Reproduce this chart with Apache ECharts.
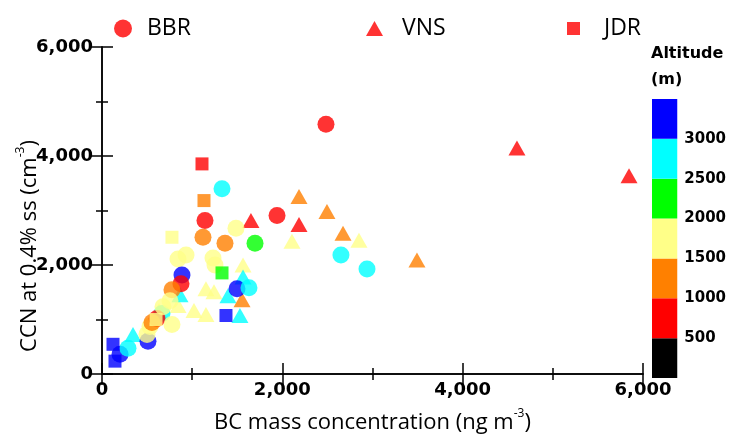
<!DOCTYPE html>
<html>
<head>
<meta charset="utf-8">
<script src="https://cdn.jsdelivr.net/npm/echarts@6/dist/echarts.min.js"></script>
<style>
  html, body { margin: 0; padding: 0; background: #fff; }
  #chart { width: 729px; height: 439px; }
</style>
</head>
<body>
<div id="chart"></div>
<script>
// BBR (circles)
const bbrBC  = [2484, 1941, 1142, 1331, 1120, 1364, 1486, 1697, 843, 932, 1231, 1253, 887, 876, 776, 1497, 1630, 2650, 2939, 200, 288, 510, 499, 532, 665, 610, 554, 776, 754, 676];
const bbrCCN = [4582, 2909, 2818, 3400, 2509, 2400, 2673, 2400, 2109, 2182, 2127, 2000, 1818, 1655, 1545, 1564, 1582, 2182, 1927, 364, 473, 600, 727, 873, 1109, 1018, 945, 909, 1345, 1236];
const bbrAlt = [750, 750, 750, 2750, 1250, 1250, 1750, 2250, 1750, 1750, 1750, 1750, 3250, 750, 1250, 3250, 2750, 2750, 2750, 3250, 2750, 3250, 1750, 1750, 2750, 750, 1250, 1750, 1750, 1750];

// VNS (triangles)
const vnsBC  = [4602, 5845, 1652, 2185, 2185, 2495, 2673, 2850, 3493, 2107, 1564, 1153, 1242, 1564, 1397, 1553, 1020, 1153, 1530, 344, 843, 865, 632];
const vnsCCN = [4145, 3636, 2818, 2745, 3255, 2982, 2582, 2455, 2091, 2436, 2000, 1564, 1509, 1782, 1436, 1364, 1164, 1091, 1073, 727, 1255, 1455, 1164];
const vnsAlt = [750, 750, 750, 750, 1250, 1250, 1250, 1750, 1250, 1750, 1750, 1750, 1750, 2750, 2750, 1250, 1750, 1750, 2750, 2750, 1750, 2750, 1750];

// JDR (squares)
const jdrBC  = [1109, 1131, 776, 1331, 1375, 122, 144, 599];
const jdrCCN = [3855, 3182, 2509, 1855, 1073, 545, 236, 1000];
const jdrAlt = [750, 1250, 1750, 2250, 3250, 3250, 3250, 1750];

// altitude colour bins
const altEdges  = [0, 500, 1000, 1500, 2000, 2500, 3000, 3500];
const altColors = ['#000000', '#ff0000', '#ff8000', '#ffff88', '#00ff00', '#00ffff', '#0000ff'];

const zip = (a, b, c) => a.map((v, i) => [v, b[i], c[i]]);

const fontTxt = "'Open Sans', sans-serif";
const fontNum = "'DejaVu Sans', sans-serif";

const frameAxis = (pos, isX, showLabel) => ({
  type: 'value',
  position: pos,
  min: 0,
  max: 6000,
  interval: 2000,
  axisLine: { show: true, lineStyle: { color: '#000', width: 1.5 } },
  axisTick: { show: true, inside: true, length: 11, lineStyle: { color: '#000', width: 1.5 } },
  minorTick: { show: true, splitNumber: 2, length: 6, lineStyle: { color: '#000', width: 1.5 } },
  splitLine: { show: false },
  axisLabel: {
    show: showLabel,
    color: '#000',
    fontSize: 18,
    fontWeight: 'bold',
    fontFamily: fontNum,
    margin: isX ? 7 : 9
  }
});

const xBottom = frameAxis('bottom', true, true);
xBottom.name = '{a|BC mass concentration (ng m}{s|-3}{a|)}';
xBottom.nameLocation = 'middle';
xBottom.nameGap = 34;
xBottom.nameTextStyle = {
  rich: {
    a: { fontSize: 22, fontFamily: fontTxt, color: '#000', lineHeight: 26, verticalAlign: 'bottom' },
    s: { fontSize: 12, fontFamily: fontTxt, color: '#000', lineHeight: 26, verticalAlign: 'top' }
  }
};

const legendItem = (name, icon, left, w, h, pad) => ({
  left: left,
  top: 12,
  icon: icon,
  itemWidth: w,
  itemHeight: h,
  data: [{ name: name, itemStyle: { color: '#ff0000' } }],
  textStyle: { fontSize: 23, fontFamily: fontTxt, color: '#000', padding: [0, 0, 0, pad] }
});

const option = {
  animation: false,
  backgroundColor: '#fff',
  grid: [
    { left: 102, right: 86, top: 47, bottom: 61 },
    { left: 652, top: 99, width: 31, height: 279 }
  ],
  legend: [
    legendItem('BBR', 'circle', 109, 18, 18, 10),
    legendItem('VNS', 'triangle', 361, 17, 15, 14),
    legendItem('JDR', 'rect', 562, 13, 13, 19)
  ],
  xAxis: [
    xBottom,
    frameAxis('top', true, false),
    { gridIndex: 1, type: 'category', data: [''], show: false }
  ],
  yAxis: [
    frameAxis('left', false, true),
    frameAxis('right', false, false),
    {
      gridIndex: 1,
      type: 'value',
      position: 'right',
      min: 0,
      max: 3500,
      interval: 500,
      axisLine: { show: false },
      axisTick: { show: false },
      splitLine: { show: false },
      axisLabel: {
        margin: 7,
        color: '#000',
        fontSize: 15,
        fontWeight: 'bold',
        fontFamily: fontNum,
        formatter: v => (v > 0 && v < 3500 ? String(v) : '')
      }
    }
  ],
  visualMap: {
    show: false,
    type: 'piecewise',
    dimension: 2,
    seriesIndex: [0, 1, 2],
    pieces: altColors.map((c, i) => ({ gte: altEdges[i], lt: altEdges[i + 1], color: c }))
  },
  graphic: [
    {
      type: 'text',
      x: 28,
      y: 246,
      rotation: Math.PI / 2,
      style: {
        text: '{a|CCN at 0.4% ss (cm}{s|-3}{a|)}',
        align: 'center',
        verticalAlign: 'middle',
        rich: {
          a: { fontSize: 22, fontFamily: fontTxt, fill: '#000', lineHeight: 26, verticalAlign: 'bottom' },
          s: { fontSize: 12, fontFamily: fontTxt, fill: '#000', lineHeight: 26, verticalAlign: 'top' }
        }
      }
    },
    {
      type: 'text',
      left: 651,
      top: 46,
      style: { text: 'Altitude', fontSize: 16, fontWeight: 'bold', fontFamily: fontNum, fill: '#000' }
    },
    {
      type: 'text',
      left: 651,
      top: 72,
      style: { text: '(m)', fontSize: 16, fontWeight: 'bold', fontFamily: fontNum, fill: '#000' }
    }
  ],
  series: [
    {
      name: 'VNS', type: 'scatter', symbol: 'triangle', symbolSize: [17, 15],
      xAxisIndex: 0, yAxisIndex: 0, data: zip(vnsBC, vnsCCN, vnsAlt)
    },
    {
      name: 'BBR', type: 'scatter', symbol: 'circle', symbolSize: 17,
      xAxisIndex: 0, yAxisIndex: 0, data: zip(bbrBC, bbrCCN, bbrAlt)
    },
    {
      name: 'JDR', type: 'scatter', symbol: 'rect', symbolSize: 13,
      xAxisIndex: 0, yAxisIndex: 0, data: zip(jdrBC, jdrCCN, jdrAlt)
    }
  ].concat(altColors.map((c, i) => ({
    type: 'bar',
    xAxisIndex: 2,
    yAxisIndex: 2,
    stack: 'colorbar',
    barWidth: '100%',
    silent: true,
    itemStyle: { color: c },
    data: [altEdges[i + 1] - altEdges[i]]
  })))
};

const myChart = echarts.init(document.getElementById('chart'));
myChart.setOption(option);
</script>
</body>
</html>
